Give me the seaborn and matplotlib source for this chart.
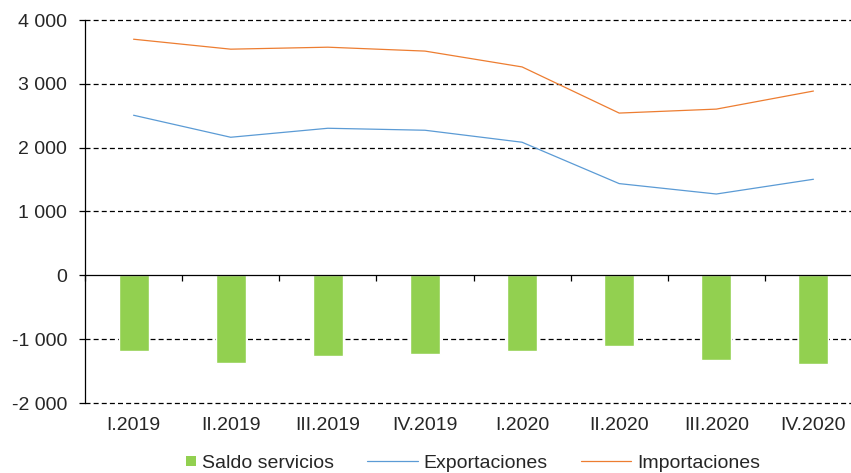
import numpy as np
import pandas as pd
import matplotlib
matplotlib.use("Agg")
import matplotlib.pyplot as plt
import seaborn as sns
from matplotlib.ticker import FuncFormatter, FixedLocator
from matplotlib.lines import Line2D
from matplotlib.patches import Patch, Rectangle
from matplotlib.legend_handler import HandlerPatch

categories = ["I.2019", "II.2019", "III.2019", "IV.2019",
              "I.2020", "II.2020", "III.2020", "IV.2020"]
saldo = [-1191, -1380, -1270, -1240, -1180, -1105, -1330, -1382]
exportaciones = [2508, 2163, 2304, 2273, 2085, 1437, 1274, 1505]
importaciones = [3699, 3543, 3574, 3513, 3265, 2542, 2604, 2887]
yticks = [-2000, -1000, 0, 1000, 2000, 3000, 4000]

GREEN = "#92D050"
BLUE = "#5B9BD5"
ORANGE = "#ED7D31"
FS = 14

sns.set_style("white")
plt.rcParams["font.family"] = ["Liberation Sans", "DejaVu Sans"]

fig = plt.figure(figsize=(8.51, 4.73), dpi=100)
L = 85 / 851
R = 862 / 851
B = (473 - 403) / 473
T = 1 - 20 / 473
ax = fig.add_axes([L, B, R - L, T - B])

df = pd.DataFrame({"cat": categories, "saldo": saldo,
                   "pos": np.arange(len(categories)),
                   "exp": exportaciones, "imp": importaciones})

sns.barplot(data=df, x="cat", y="saldo", color=GREEN, saturation=1,
            width=0.31, ax=ax, zorder=3)
sns.lineplot(data=df, x="pos", y="exp", color=BLUE, lw=0.9, ax=ax, zorder=4)
sns.lineplot(data=df, x="pos", y="imp", color=ORANGE, lw=0.9, ax=ax, zorder=4)

ax.set_xlim(-0.5, len(categories) - 0.5)
ax.set_ylim(-2000, 4000)
ax.set_xlabel("")
ax.set_ylabel("")

# gridlines (dashed) except zero
for v in yticks:
    if v != 0:
        ax.axhline(v, color="black", lw=0.9, ls=(0, (4, 2.5)), zorder=1, clip_on=False)

ax.yaxis.set_major_locator(FixedLocator(yticks))
ax.yaxis.set_major_formatter(FuncFormatter(lambda v, p: f"{int(v):,}".replace(",", " ")))
ax.yaxis.set_tick_params(which="major", direction="out", length=4, width=0.9,
                         color="black", pad=9, labelsize=FS, left=True)

for s in ["top", "right"]:
    ax.spines[s].set_visible(False)
ax.spines["left"].set_color("black")
ax.spines["left"].set_linewidth(0.9)
ax.spines["bottom"].set_position(("data", 0))
ax.spines["bottom"].set_color("black")
ax.spines["bottom"].set_linewidth(0.9)
ax.spines["bottom"].set_zorder(5)

ax.set_xticks(np.arange(len(categories)))
ax.set_xticklabels(categories)
ax.set_xticks(np.arange(len(categories) + 1) - 0.5, minor=True)
ax.xaxis.set_tick_params(which="major", length=0, pad=102, labelsize=FS)
ax.xaxis.set_tick_params(which="minor", direction="out", length=4, width=0.9,
                         color="black", bottom=True)


def small_square(legend, orig_handle, xdescent, ydescent, width, height, fontsize):
    s = 7.5
    return Rectangle((-xdescent + width - s, -ydescent + (height - s) / 2), s, s)


handles = [
    Patch(facecolor=GREEN, edgecolor="none", label="Saldo servicios"),
    Line2D([], [], color=BLUE, lw=0.9, label="Exportaciones"),
    Line2D([], [], color=ORANGE, lw=0.9, label="Importaciones"),
]
fig.legend(handles=handles, loc="center", bbox_to_anchor=(453 / 851, 1 - 463 / 473),
           ncol=3, frameon=False, fontsize=FS, handlelength=2.6,
           columnspacing=1.7, handletextpad=0.3,
           handler_map={Patch: HandlerPatch(patch_func=small_square)})
fig.savefig("out.png", dpi=100)
